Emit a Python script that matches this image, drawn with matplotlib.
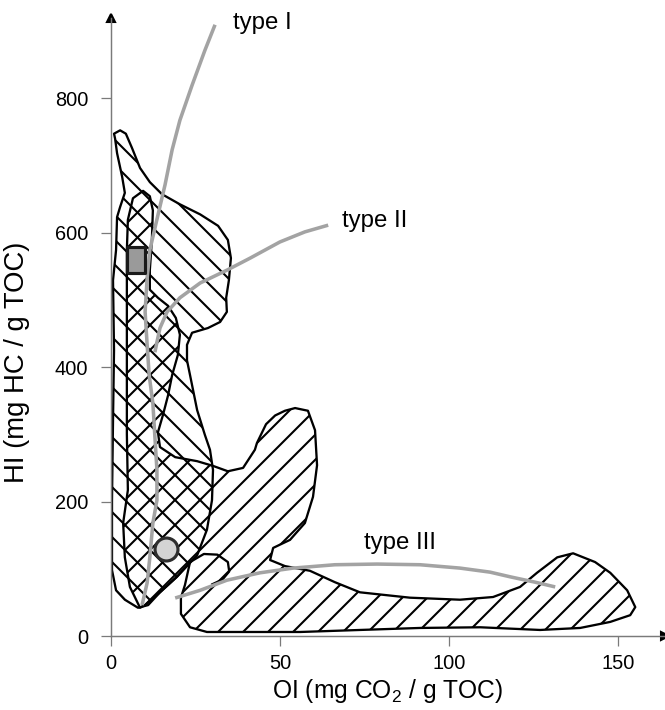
import matplotlib
matplotlib.use("Agg")
import matplotlib.pyplot as plt
from matplotlib.patches import Polygon

# ---- style ----
DPI = 150
plt.rcParams["font.family"] = ["Liberation Sans", "DejaVu Sans"]
plt.rcParams["mathtext.default"] = "regular"
plt.rcParams["hatch.linewidth"] = 1.0
AXIS_GREY = "#7a7a7a"
CURVE_GREY = "#a3a3a3"

# ---- data (OI, HI) ----
x_ticks = [0, 50, 100, 150]
y_ticks = [0, 200, 400, 600, 800]

# upper field, "\" hatch
field_a_oi = [0.9, 2.7, 4.4, 6.2, 8.6, 11.5, 15.1, 20.4, 26.4, 31.7, 34.6, 35.5,
              34.9, 34.1, 34.3, 32.3, 28.7, 24.0, 22.5, 22.5, 23.4, 25.5, 27.8,
              29.3, 30.2, 29.9, 28.4, 25.5, 19.5, 14.5, 11.0, 8.0, 4.1, 1.5, 0.3,
              0.3, 0.6, 0.9, 0.6, 1.5, 1.8, 2.7, 4.1, 3.3, 1.8, 1.2]
field_a_hi = [747, 752, 747, 726, 696, 675, 657, 642, 627, 610, 589, 562,
              529, 503, 482, 467, 458, 451, 433, 410, 388, 336, 299,
              277, 247, 202, 158, 120, 88, 65, 46, 42, 54, 68, 98,
              202, 321, 425, 529, 574, 623, 638, 659, 683, 718, 740]

# inner strip + lower field + type III arm, "/" hatch
field_b_oi = [9.5, 11.5, 12.4, 12.1, 11.5, 11.5, 13.9, 16.9, 19.2, 20.4, 19.8,
              18.1, 16.9, 15.4, 13.9, 14.5, 19.0, 25.5, 30.2, 34.6, 39.1, 42.6,
              43.2, 45.9, 48.6, 51.5, 54.5, 58.3, 60.4, 61.0, 59.8, 57.4, 53.0,
              48.0, 47.1, 51.5, 58.9, 66.3, 73.7, 88.5, 103.3, 113.1, 121.1,
              126.1, 132.1, 136.8, 143.3, 147.8, 152.8, 155.2, 153.7, 147.8,
              138.9, 127.0, 109.3, 91.5, 73.7, 56.0, 38.2, 28.4, 23.4, 20.7,
              20.7, 21.9, 23.4, 19.5, 14.5, 10.1, 8.6, 5.6, 4.1, 3.6, 5.0, 4.7,
              4.7, 4.7, 5.0, 6.5]
field_b_hi = [662, 654, 633, 589, 544, 515, 503, 491, 473, 448, 418,
              388, 358, 329, 303, 281, 266, 260, 253, 245, 250, 277,
              287, 315, 328, 335, 339, 335, 306, 254, 207, 168, 143,
              131, 113, 104, 97, 80, 65, 57, 54, 58, 73,
              94, 117, 123, 110, 94, 68, 43, 31, 21,
              12, 9, 13, 12, 9, 6, 6, 6, 13, 33,
              57, 76, 110, 88, 65, 46, 42, 73, 117, 168, 217, 300,
              420, 574, 619, 651]

# small rounded lobe outline inside the lower field
lobe_oi = [23.4, 27.5, 31.5, 34.6, 35.0, 33.0, 30.0]
lobe_hi = [110, 122, 121, 110, 96, 84, 77]

# kerogen evolution paths
type1_oi = [30.8, 27.8, 24.0, 20.4, 18.1, 16.0, 13.9, 11.5, 10.7, 10.1, 10.7,
            11.3, 12.4, 13.0, 13.6, 13.6, 12.4, 11.5, 10.7, 9.2]
type1_hi = [909, 871, 819, 767, 723, 671, 626, 574, 532, 482, 433,
            388, 346, 296, 247, 202, 168, 117, 79, 46]
type2_oi = [64.3, 57.4, 50.0, 41.2, 34.3, 26.4, 20.4, 16.6, 14.5, 13.6, 13.0]
type2_hi = [611, 601, 586, 562, 544, 525, 503, 482, 458, 437, 422]
type3_oi = [19.0, 26.4, 34.3, 44.1, 53.9, 66.3, 78.8, 91.5, 103.3, 112.2,
            118.2, 125.6, 131.5]
type3_hi = [56.5, 68, 83, 94, 101, 106, 107, 106, 101, 95, 88, 80, 73]

labels = ["type I", "type II", "type III"]
label_oi = [36.0, 68.4, 74.8]
label_hi = [912, 617, 138]

# samples
square_oi, square_hi = [7.4], [559]
circle_oi, circle_hi = [16.3], [129]

# ---- figure ----
fig = plt.figure(figsize=(665 / DPI, 710 / DPI), dpi=DPI)
ax = fig.add_axes([0.1669, 0.1042, 0.8331, 0.8704])
ax.set_xlim(0, 164)
ax.set_ylim(0, 919)

for oi, hi, hatch in [(field_a_oi, field_a_hi, "\\\\"),
                      (field_b_oi, field_b_hi, "//")]:
    poly = Polygon(list(zip(oi, hi)), closed=True, facecolor="none",
                   edgecolor="black", hatch=hatch, linewidth=1.1,
                   joinstyle="round", zorder=2)
    ax.add_patch(poly)
ax.plot(lobe_oi, lobe_hi, color="black", lw=1.1, zorder=2)

for oi, hi in [(type1_oi, type1_hi), (type2_oi, type2_hi), (type3_oi, type3_hi)]:
    ax.plot(oi, hi, color=CURVE_GREY, lw=1.7, solid_capstyle="butt",
            solid_joinstyle="round", zorder=3)

for t, x, y in zip(labels, label_oi, label_hi):
    ax.text(x, y, t, fontsize=11.5, ha="left", va="center", zorder=4)

rect = [(-0.7, -1), (0.7, -1), (0.7, 1), (-0.7, 1), (-0.7, -1)]
ax.plot(square_oi, square_hi, linestyle="none", marker=rect, markersize=12.5,
        markerfacecolor="#9a9a9a", markeredgecolor="#1a1a1a",
        markeredgewidth=1.5, zorder=5)
ax.plot(circle_oi, circle_hi, linestyle="none", marker="o", markersize=11,
        markerfacecolor="#d4d4d4", markeredgecolor="#2e2e2e",
        markeredgewidth=1.5, zorder=5)

# axes with arrows
for side in ["top", "right"]:
    ax.spines[side].set_visible(False)
for side in ["left", "bottom"]:
    ax.spines[side].set_color(AXIS_GREY)
    ax.spines[side].set_linewidth(0.7)
ax.plot(1, 0, ">", color="black", markersize=3.5, transform=ax.transAxes,
        clip_on=False)
ax.plot(0, 1, "^", color="black", markersize=3.5, transform=ax.transAxes,
        clip_on=False)

ax.set_xticks(x_ticks)
ax.set_yticks(y_ticks)
ax.tick_params(direction="out", length=4.8, width=0.6, color=AXIS_GREY,
               labelsize=9.6, pad=4)
ax.tick_params(axis="y", pad=6)
ax.set_xlabel("OI (mg CO$_2$ / g TOC)", fontsize=11.8)
ax.set_ylabel("HI (mg HC / g TOC)", fontsize=13.2)
ax.xaxis.set_label_coords(0.5, -0.067)
ax.yaxis.set_label_coords(-0.146, 0.443)

fig.savefig("out.png", dpi=DPI)
